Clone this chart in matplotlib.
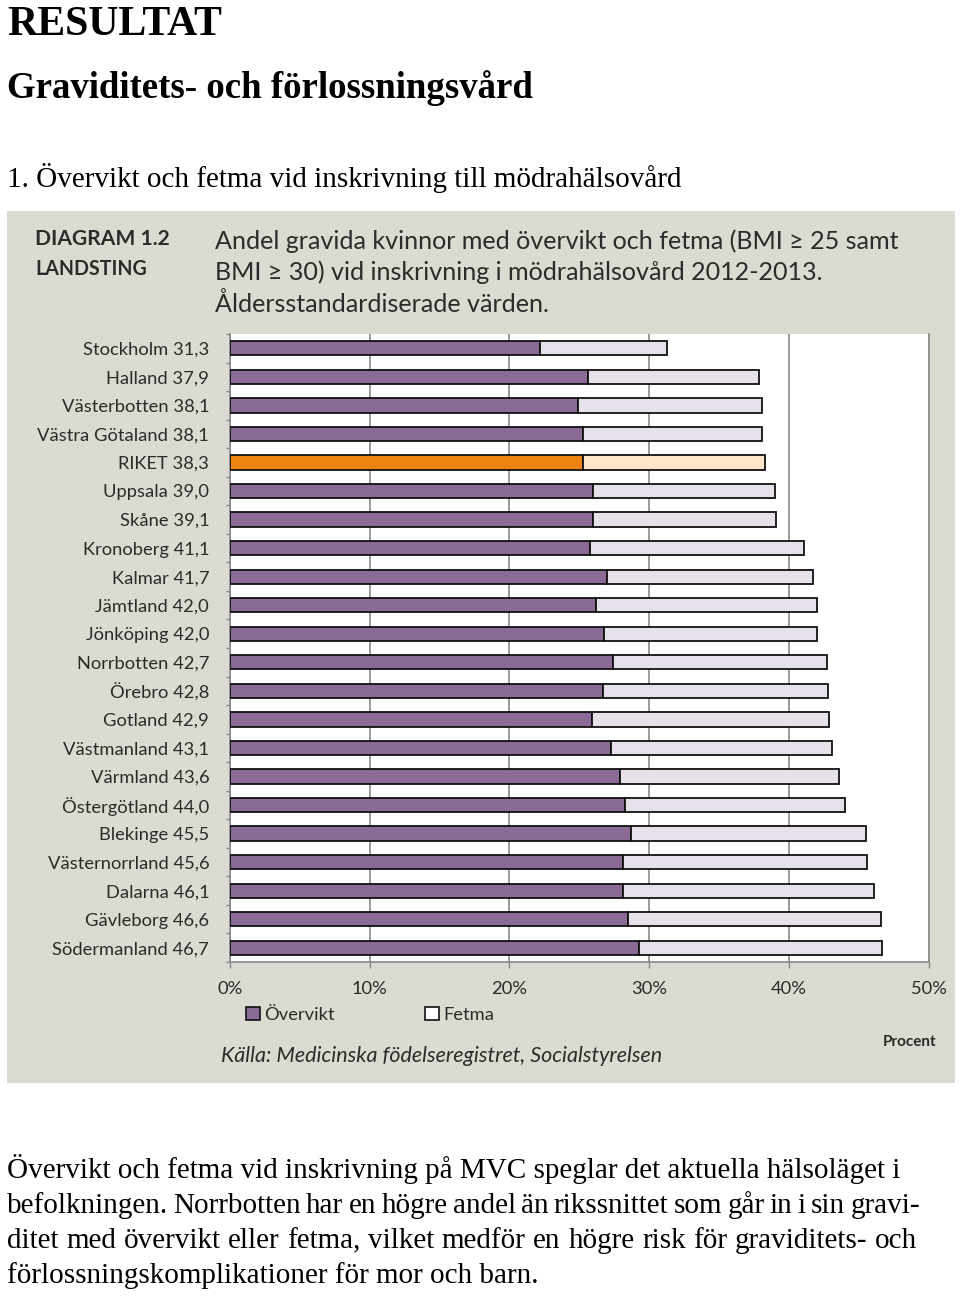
import matplotlib
matplotlib.use("Agg")
import matplotlib.pyplot as plt
from matplotlib.patches import Rectangle, Patch
import numpy as np

# ---------------- data ----------------
regions = ["Stockholm", "Halland", "Västerbotten", "Västra Götaland", "RIKET",
           "Uppsala", "Skåne", "Kronoberg", "Kalmar", "Jämtland", "Jönköping",
           "Norrbotten", "Örebro", "Gotland", "Västmanland", "Värmland",
           "Östergötland", "Blekinge", "Västernorrland", "Dalarna", "Gävleborg",
           "Södermanland"]
totals = [31.3, 37.9, 38.1, 38.1, 38.3, 39.0, 39.1, 41.1, 41.7, 42.0, 42.0,
          42.7, 42.8, 42.9, 43.1, 43.6, 44.0, 45.5, 45.6, 46.1, 46.6, 46.7]
overvikt = [22.2, 25.6, 24.9, 25.3, 25.3, 26.0, 26.0, 25.8, 27.0, 26.2, 26.8,
            27.4, 26.7, 25.9, 27.3, 27.9, 28.3, 28.7, 28.1, 28.1, 28.5, 29.3]
fetma = [9.1, 12.3, 13.2, 12.8, 13.0, 13.0, 13.1, 15.3, 14.7, 15.8, 15.2,
         15.3, 16.1, 17.0, 15.8, 15.7, 15.7, 16.8, 17.5, 18.0, 18.1, 17.4]
xticks = [0, 10, 20, 30, 40, 50]
xticklabels = ["0%", "10%", "20%", "30%", "40%", "50%"]
highlight = "RIKET"

# ---------------- style ----------------
W, H = 960, 1296
PURPLE, LIGHT = "#8c6a97", "#e6e1ea"
ORANGE, LIGHT_OR = "#ee8410", "#fde5c9"
PANEL = "#dcdbd1"
TXT = "#2b2b2b"
SERIF = ["Liberation Serif", "DejaVu Serif"]
SANS = ["Lato", "DejaVu Sans"]

fig = plt.figure(figsize=(W / 100, H / 100), dpi=100)
fig.patch.set_facecolor("white")
R = fig.canvas.get_renderer()


def fx(x):
    return x / W


def fy(y):
    return 1 - y / H


def fit(t, width):
    w = t.get_window_extent(R).width
    t.set_fontsize(t.get_fontsize() * width / w)
    return t


# ---------------- header text ----------------
fit(fig.text(fx(7), fy(35), "RESULTAT", family=SERIF, weight="bold",
             fontsize=30, va="baseline", color="black"), 215)
fit(fig.text(fx(7), fy(98), "Graviditets- och förlossningsvård", family=SERIF,
             weight="bold", fontsize=24, va="baseline", color="black"), 528)
fit(fig.text(fx(7), fy(187), "1. Övervikt och fetma vid inskrivning till mödrahälsovård",
             family=SERIF, fontsize=20, va="baseline", color="black"), 676)

# ---------------- chart panel ----------------
fig.add_artist(Rectangle((fx(7), fy(1083)), (955 - 7) / W, (1083 - 211) / H,
                         transform=fig.transFigure, facecolor=PANEL,
                         edgecolor="none", zorder=-5))

fit(fig.text(fx(35), fy(245), "DIAGRAM 1.2", family=SANS, weight="bold",
             fontsize=14, va="baseline", color=TXT), 135)
fit(fig.text(fx(35), fy(275), "LANDSTING", family=SANS, weight="bold",
             fontsize=14, va="baseline", color=TXT), 112)
t1 = fit(fig.text(fx(215), fy(249), "Andel gravida kvinnor med övervikt och fetma (BMI ≥ 25 samt",
                  family=SANS, fontsize=18, va="baseline", color=TXT), 682)
tfs = t1.get_fontsize()
fig.text(fx(215), fy(280), "BMI ≥ 30) vid inskrivning i mödrahälsovård 2012-2013.",
         family=SANS, fontsize=tfs, va="baseline", color=TXT)
fig.text(fx(215), fy(312), "Åldersstandardiserade värden.",
         family=SANS, fontsize=tfs, va="baseline", color=TXT)

# axes
ax = fig.add_axes([fx(230), fy(962), (928.5 - 230) / W, (962 - 334) / H])
ax.set_facecolor("white")
y = np.arange(len(regions))
c1 = [ORANGE if r == highlight else PURPLE for r in regions]
c2 = [LIGHT_OR if r == highlight else LIGHT for r in regions]
b1 = ax.barh(y, overvikt, height=0.5, color=c1, edgecolor="#111111",
             linewidth=1.3, zorder=3)
b2 = ax.barh(y, fetma, left=overvikt, height=0.5, color=c2,
             edgecolor="#111111", linewidth=1.3, zorder=3)
ax.set_xlim(0, 50)
ax.set_ylim(len(regions) - 0.5, -0.5)
ax.set_xticks(xticks)
ax.set_xticklabels(xticklabels)
ax.set_yticks(y)
lab_texts = [f"{r} {t:.1f}".replace(".", ",") for r, t in zip(regions, totals)]
ax.set_yticklabels(lab_texts)
ax.set_yticks(np.arange(-0.5, len(regions), 1), minor=True)
ax.tick_params(axis="y", which="major", length=0, pad=15, labelcolor=TXT)
ax.tick_params(axis="y", which="minor", length=3, color="#8a8a8a", width=1)
ax.tick_params(axis="x", length=4.5, color="#8a8a8a", width=1, pad=9,
               labelcolor=TXT)
ax.xaxis.grid(True, color="#8a8a8a", linewidth=1.2)
ax.set_axisbelow(True)
for s in ["top"]:
    ax.spines[s].set_visible(False)
for s in ["left", "bottom", "right"]:
    ax.spines[s].set_color("#8a8a8a")
    ax.spines[s].set_linewidth(1.2)

# fit label font
for lbl in ax.get_yticklabels():
    lbl.set_family(SANS)
    lbl.set_fontsize(13)
lw = max(l.get_window_extent(R).width for l in ax.get_yticklabels())
lfs = 13 * 171 / lw
for lbl in ax.get_yticklabels():
    lbl.set_fontsize(lfs)
for lbl in ax.get_xticklabels():
    lbl.set_family(SANS)
    lbl.set_fontsize(lfs)

# legend
leg = ax.legend(handles=[Patch(facecolor=PURPLE, edgecolor="#111111", lw=1.2),
                         Patch(facecolor="white", edgecolor="#111111", lw=1.2)],
                labels=["Övervikt", "Fetma"], ncol=2, frameon=False,
                loc="center left", bbox_to_anchor=(fx(246), fy(1015)),
                bbox_transform=fig.transFigure, handlelength=0.75,
                handleheight=0.75, handletextpad=0.25, columnspacing=4.9,
                borderpad=0, borderaxespad=0,
                prop={"family": SANS, "size": lfs})
for t in leg.get_texts():
    t.set_color(TXT)

fit(fig.text(fx(883), fy(1042), "Procent", family=SANS, weight="bold",
             fontsize=10, va="center", color=TXT), 54)
fit(fig.text(fx(221), fy(1056), "Källa: Medicinska födelseregistret, Socialstyrelsen",
             family=SANS, style="italic", fontsize=13, va="center", color=TXT), 439)

# ---------------- body text ----------------
lines = ["Övervikt och fetma vid inskrivning på MVC speglar det aktuella hälsoläget i",
         "befolkningen. Norrbotten har en högre andel än rikssnittet som går in i sin gravi-",
         "ditet med övervikt eller fetma, vilket medför en högre risk för graviditets- och",
         "förlossningskomplikationer för mor och barn."]
line_ends = [903, 920, 917, None]
baselines = [1178, 1213, 1248, 1283]

b0 = fit(fig.text(fx(7), fy(baselines[0]), lines[0], family=SERIF, fontsize=20,
                  va="baseline", color="black"), 896)
bfs = b0.get_fontsize()


def justified(text, x0, x1, yb):
    words = text.split(" ")
    ts = [fig.text(0, fy(yb), w, family=SERIF, fontsize=bfs, va="baseline",
                   color="black") for w in words]
    ws = [t.get_window_extent(R).width for t in ts]
    gap = (x1 - x0 - sum(ws)) / (len(words) - 1)
    x = x0
    for t, w in zip(ts, ws):
        t.set_x(fx(x))
        x += w + gap


justified(lines[1], 7, line_ends[1], baselines[1])
justified(lines[2], 7, line_ends[2], baselines[2])
fig.text(fx(7), fy(baselines[3]), lines[3], family=SERIF, fontsize=bfs,
         va="baseline", color="black")

fig.savefig("out.png", dpi=100)
